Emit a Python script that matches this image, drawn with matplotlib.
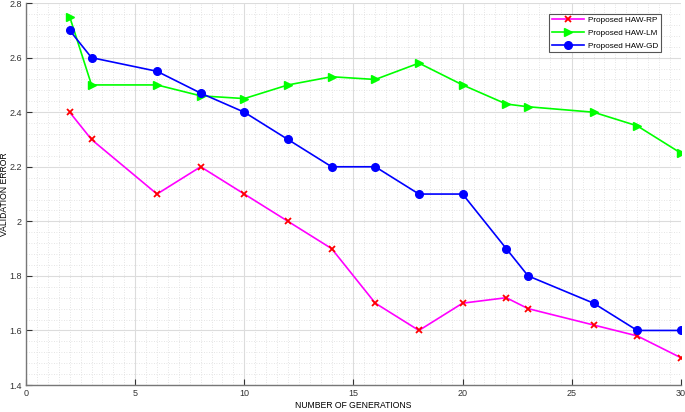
import matplotlib
matplotlib.use("Agg")
import matplotlib.pyplot as plt
from matplotlib.ticker import MultipleLocator

plt.rcParams['font.family'] = ['Liberation Sans', 'DejaVu Sans']

generations = [2, 3, 6, 8, 10, 12, 14, 16, 18, 20, 22, 23, 26, 28, 30]
err_rp = [2.4, 2.3, 2.1, 2.2, 2.1, 2.0, 1.9, 1.7, 1.6, 1.7, 1.72, 1.68, 1.62, 1.58, 1.5]
err_lm = [2.75, 2.5, 2.5, 2.46, 2.45, 2.5, 2.53, 2.52, 2.58, 2.5, 2.43, 2.42, 2.4, 2.35, 2.25]
err_gd = [2.7, 2.6, 2.55, 2.47, 2.4, 2.3, 2.2, 2.2, 2.1, 2.1, 1.9, 1.8, 1.7, 1.6, 1.6]
labels = ['Proposed HAW-RP', 'Proposed HAW-LM', 'Proposed HAW-GD']

fig = plt.figure(figsize=(6.85, 4.12), dpi=100)
ax = fig.add_axes([0.038, 0.0655, 0.956, 0.927])

ax.plot(generations, err_rp, color='#ff00ff', lw=1.2, marker='x', ms=4.5,
        mec='#ff0000', mew=1.3, label=labels[0])
ax.plot(generations, err_lm, color='#00ff00', lw=1.2, marker='>', ms=5.5,
        mec='#00ff00', mfc='#00ff00', label=labels[1])
ax.plot(generations, err_gd, color='#0000ff', lw=1.2, marker='o', ms=5.5,
        mec='#0000ff', mfc='#0000ff', label=labels[2])

ax.set_xlim(0, 30)
ax.set_ylim(1.4, 2.8)
ax.xaxis.set_major_locator(MultipleLocator(5))
ax.xaxis.set_minor_locator(MultipleLocator(0.5))
ax.yaxis.set_minor_locator(MultipleLocator(0.04))
ax.set_yticks([1.4, 1.6, 1.8, 2.0, 2.2, 2.4, 2.6, 2.8])
ax.set_yticklabels(['1.4', '1.6', '1.8', '2', '2.2', '2.4', '2.6', '2.8'])

ax.grid(which='major', color='#dcdcdc', lw=0.8)
ax.grid(which='minor', color='#dcdcdc', lw=0.6, ls=(0, (1, 2)))
ax.set_axisbelow(True)

for s in ['top', 'right']:
    ax.spines[s].set_visible(False)
for s in ['left', 'bottom']:
    ax.spines[s].set_color('#777777')
    ax.spines[s].set_linewidth(1.0)
ax.tick_params(which='both', direction='in', labelsize=6.5, colors='#333333', pad=3)
ax.tick_params(which='minor', length=0)
ax.tick_params(which='major', length=4)

ax.set_xlabel('NUMBER OF GENERATIONS', fontsize=6.2, labelpad=2)
ax.set_ylabel('VALIDATION ERROR', fontsize=6.2)
ax.yaxis.set_label_coords(-0.026, 0.5)

leg = ax.legend(loc='upper right', bbox_to_anchor=(0.976, 0.983), fontsize=5.9,
                fancybox=False, framealpha=1, edgecolor='#555555',
                borderpad=0.35, handlelength=3.9, labelspacing=0.6, handletextpad=0.5)
leg.get_frame().set_linewidth(0.8)

fig.savefig('out.png', dpi=100)
